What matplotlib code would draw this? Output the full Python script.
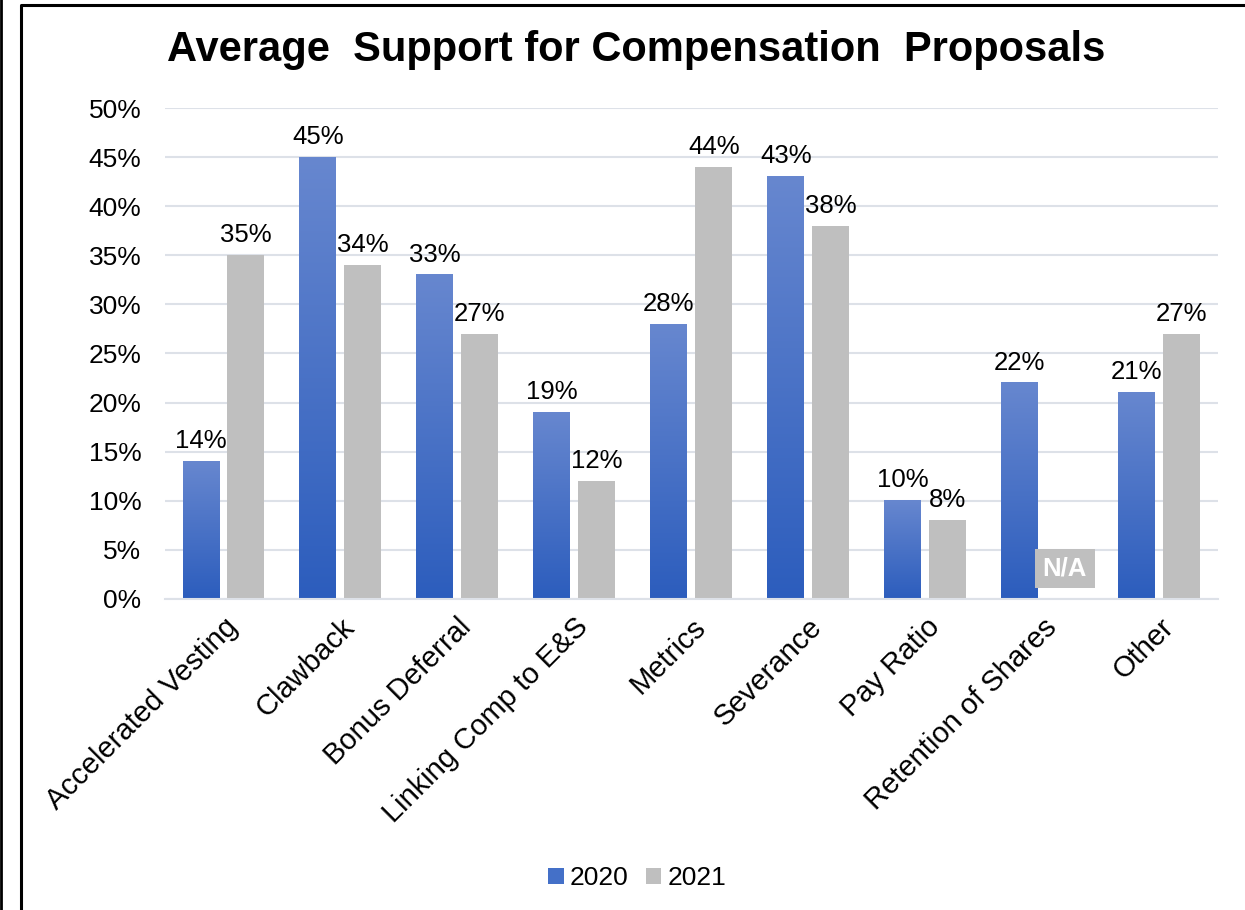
import matplotlib.pyplot as plt
import numpy as np
from matplotlib.colors import LinearSegmentedColormap
from matplotlib.lines import Line2D
from matplotlib.patches import Rectangle

plt.rcParams["font.family"] = ["Liberation Sans", "DejaVu Sans"]

CATEGORIES = [
    "Accelerated Vesting",
    "Clawback",
    "Bonus Deferral",
    "Linking Comp to E&S",
    "Metrics",
    "Severance",
    "Pay Ratio",
    "Retention of Shares",
    "Other",
]
SUPPORT_2020 = [0.14, 0.45, 0.33, 0.19, 0.28, 0.43, 0.10, 0.22, 0.21]
SUPPORT_2021 = [0.35, 0.34, 0.27, 0.12, 0.44, 0.38, 0.08, None, 0.27]
Y_TICKS = [0.00, 0.05, 0.10, 0.15, 0.20, 0.25, 0.30, 0.35, 0.40, 0.45, 0.50]

BLUE_TOP = "#6787cf"
BLUE_BOTTOM = "#2c5dbd"
GRAY = "#bfbfbf"
GRID = "#dde1e8"

BAR_WIDTH = 0.316
OFFSET = 0.192

blue_cmap = LinearSegmentedColormap.from_list("blue_fade", [BLUE_BOTTOM, BLUE_TOP])
gradient = np.linspace(0, 1, 256).reshape(-1, 1)

fig = plt.figure(figsize=(12.45, 9.1), dpi=100)
ax = fig.add_axes([0.1325, 0.3418, 0.8455, 0.5395])

x = np.arange(len(CATEGORIES))

for xi, val in zip(x, SUPPORT_2020):
    left = xi - OFFSET - BAR_WIDTH / 2
    ax.imshow(gradient, cmap=blue_cmap, origin="lower", aspect="auto",
              extent=(left, left + BAR_WIDTH, 0, val), zorder=2)
    ax.annotate(f"{val:.0%}", (xi - OFFSET, val), xytext=(0, 6),
                textcoords="offset points", ha="center", va="bottom", fontsize=18.5)

for xi, val in zip(x, SUPPORT_2021):
    if val is None:
        ax.text(xi + OFFSET, 0.031, "N/A", ha="center", va="center", fontsize=18.5,
                fontweight="bold", color="white", zorder=4,
                bbox=dict(boxstyle="square,pad=0.3", facecolor=GRAY, edgecolor="none"))
        continue
    ax.bar(xi + OFFSET, val, width=BAR_WIDTH, color=GRAY, zorder=2)
    ax.annotate(f"{val:.0%}", (xi + OFFSET, val), xytext=(0, 6),
                textcoords="offset points", ha="center", va="bottom", fontsize=18.5)

ax.set_xlim(-0.5, len(CATEGORIES) - 0.5)
ax.set_ylim(0, 0.5)
ax.set_yticks(Y_TICKS)
ax.set_yticklabels([f"{t:.0%}" for t in Y_TICKS], fontsize=19)
ax.set_xticks(x)
ax.set_xticklabels(CATEGORIES, rotation=45, ha="right", rotation_mode="anchor", fontsize=21)
ax.tick_params(axis="y", length=0, pad=17)
ax.tick_params(axis="x", length=0, pad=10)
ax.yaxis.grid(True, color=GRID, linewidth=1.5, zorder=0)
ax.set_axisbelow(True)
for side in ["top", "right", "left"]:
    ax.spines[side].set_visible(False)
ax.spines["bottom"].set_color(GRID)
ax.spines["bottom"].set_linewidth(1.5)

fig.text(0.511, 0.945, "Average  Support for Compensation  Proposals", ha="center", va="center",
         fontsize=30, fontweight="bold")

handles = [
    Rectangle((0, 0), 1, 1, facecolor="#4470c8"),
    Rectangle((0, 0), 1, 1, facecolor=GRAY),
]
fig.legend(handles, ["2020", "2021"], loc="center", bbox_to_anchor=(0.512, 0.035), ncol=2,
           frameon=False, fontsize=19, handlelength=0.58, handleheight=0.58,
           handletextpad=0.25, columnspacing=0.65)

# outer chart frame
fig.add_artist(Line2D([0.0165, 0.0165, 1.0], [0.0, 0.9945, 0.9945], color="black", linewidth=2.2))
fig.add_artist(Line2D([0.001, 0.001], [0.0, 1.0], color="black", linewidth=2.0))

fig.savefig("out.png", dpi=100)
